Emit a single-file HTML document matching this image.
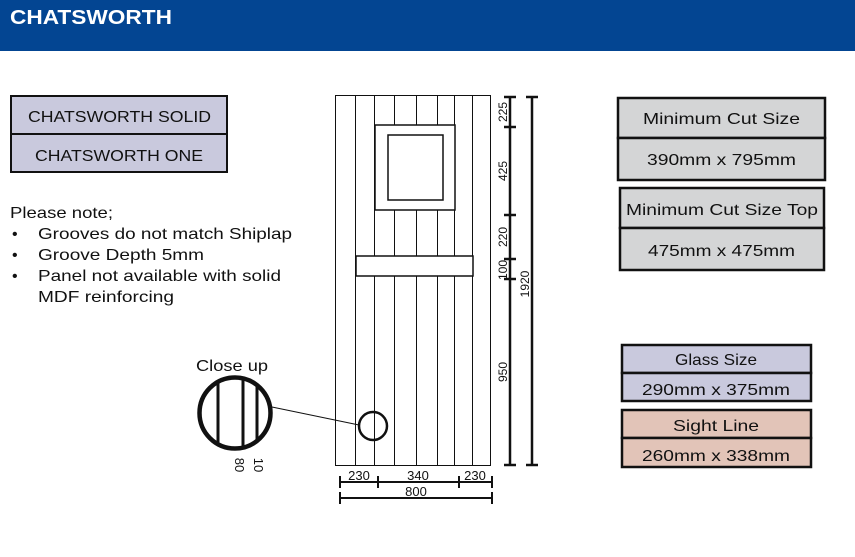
<!DOCTYPE html>
<html><head><meta charset="utf-8"><style>
html,body{margin:0;padding:0;background:#fff}
svg{display:block}
text{font-family:"Liberation Sans",sans-serif;fill:#111}
</style></head><body>
<svg width="855" height="557" viewBox="0 0 855 557" xmlns="http://www.w3.org/2000/svg">
<rect x="0" y="0" width="855" height="51" fill="#034592"/>
<text x="10" y="24" font-size="20" font-weight="bold" style="fill:#fff" textLength="162" lengthAdjust="spacingAndGlyphs">CHATSWORTH</text>

<g stroke="#111" stroke-width="2">
<rect x="11" y="96" width="216" height="38" fill="#c9c9dd"/>
<rect x="11" y="134" width="216" height="38" fill="#c9c9dd"/>
</g>
<g font-size="16" lengthAdjust="spacingAndGlyphs">
<text x="28" y="122" textLength="183" lengthAdjust="spacingAndGlyphs">CHATSWORTH SOLID</text>
<text x="35" y="161" textLength="168" lengthAdjust="spacingAndGlyphs">CHATSWORTH ONE</text>

<text x="10" y="218" textLength="103" lengthAdjust="spacingAndGlyphs">Please note;</text>
<text x="12" y="239">•</text><text x="38" y="239" textLength="254" lengthAdjust="spacingAndGlyphs">Grooves do not match Shiplap</text>
<text x="12" y="260">•</text><text x="38" y="260" textLength="166" lengthAdjust="spacingAndGlyphs">Groove Depth 5mm</text>
<text x="12" y="281">•</text><text x="38" y="281" textLength="243" lengthAdjust="spacingAndGlyphs">Panel not available with solid</text>
<text x="38" y="302" textLength="136" lengthAdjust="spacingAndGlyphs">MDF reinforcing</text>
</g>

<!-- door -->
<g stroke="#111" stroke-width="1" fill="none">
<rect x="335.5" y="95.5" width="155" height="370"/>
<line x1="355.5" y1="95" x2="355.5" y2="466"/>
<line x1="374.5" y1="95" x2="374.5" y2="466"/>
<line x1="394.5" y1="95" x2="394.5" y2="466"/>
<line x1="416.5" y1="95" x2="416.5" y2="466"/>
<line x1="437.5" y1="95" x2="437.5" y2="466"/>
<line x1="454.5" y1="95" x2="454.5" y2="466"/>
<line x1="472.5" y1="95" x2="472.5" y2="466"/>
</g>
<g stroke="#111" stroke-width="1.5">
<rect x="375" y="125" width="80" height="85" fill="#fff"/>
<rect x="388" y="135" width="55" height="65" fill="#fff"/>
<rect x="356" y="256" width="117" height="20" fill="#fff"/>
</g>

<!-- vertical dims -->
<g stroke="#111" stroke-width="2.5">
<line x1="510" y1="97" x2="510" y2="465"/>
<line x1="504" y1="97" x2="516" y2="97"/>
<line x1="504" y1="127" x2="516" y2="127"/>
<line x1="504" y1="215" x2="516" y2="215"/>
<line x1="504" y1="259" x2="516" y2="259"/>
<line x1="504" y1="279" x2="516" y2="279"/>
<line x1="504" y1="465" x2="516" y2="465"/>
<line x1="532" y1="97" x2="532" y2="465"/>
<line x1="526" y1="97" x2="538" y2="97"/>
<line x1="526" y1="465" x2="538" y2="465"/>
</g>
<g font-size="12">
<text transform="translate(507,112) rotate(-90)" text-anchor="middle">225</text>
<text transform="translate(507,171) rotate(-90)" text-anchor="middle">425</text>
<text transform="translate(507,237) rotate(-90)" text-anchor="middle">220</text>
<text transform="translate(507,270) rotate(-90)" text-anchor="middle">100</text>
<text transform="translate(529,284) rotate(-90)" text-anchor="middle">1920</text>
<text transform="translate(507,372) rotate(-90)" text-anchor="middle">950</text>
</g>

<!-- horizontal dims -->
<g stroke="#111" stroke-width="2">
<line x1="340" y1="482" x2="492" y2="482"/>
<line x1="340" y1="476" x2="340" y2="488"/>
<line x1="378" y1="476" x2="378" y2="488"/>
<line x1="459" y1="476" x2="459" y2="488"/>
<line x1="492" y1="476" x2="492" y2="488"/>
<line x1="340" y1="498" x2="492" y2="498"/>
<line x1="340" y1="492" x2="340" y2="504"/>
<line x1="492" y1="492" x2="492" y2="504"/>
</g>
<g font-size="13" text-anchor="middle">
<text x="359" y="480">230</text>
<text x="418" y="480">340</text>
<text x="475" y="480">230</text>
<text x="416" y="496">800</text>
</g>

<!-- close up -->
<text x="196" y="371" font-size="16" textLength="72" lengthAdjust="spacingAndGlyphs">Close up</text>
<line x1="272" y1="407" x2="359" y2="425" stroke="#111" stroke-width="1"/>
<circle cx="373" cy="426" r="14" fill="none" stroke="#111" stroke-width="2.5"/>
<clipPath id="c"><circle cx="235" cy="413" r="35"/></clipPath>
<g clip-path="url(#c)" stroke="#111" stroke-width="3">
<line x1="218" y1="370" x2="218" y2="460"/>
<line x1="243" y1="370" x2="243" y2="460"/>
<line x1="257" y1="370" x2="257" y2="460"/>
</g>
<circle cx="235" cy="413" r="35.5" fill="none" stroke="#111" stroke-width="4.5"/>
<text transform="translate(235,465) rotate(90)" font-size="13" text-anchor="middle">80</text>
<text transform="translate(254,465) rotate(90)" font-size="13" text-anchor="middle">10</text>

<!-- right boxes -->
<g stroke="#111" stroke-width="2.5">
<rect x="618" y="98" width="207" height="40" fill="#d4d5d6"/>
<rect x="618" y="138" width="207" height="42" fill="#d4d5d6"/>
<rect x="620" y="188" width="204" height="40" fill="#d4d5d6"/>
<rect x="620" y="228" width="204" height="42" fill="#d4d5d6"/>
<rect x="622" y="345" width="189" height="28" fill="#c9c9dd"/>
<rect x="622" y="373" width="189" height="28" fill="#c9c9dd"/>
<rect x="622" y="410" width="189" height="28" fill="#e2c4b8"/>
<rect x="622" y="438" width="189" height="29" fill="#e2c4b8"/>
</g>
<g font-size="16">
<text x="643" y="124" textLength="157" lengthAdjust="spacingAndGlyphs">Minimum Cut Size</text>
<text x="647" y="165" textLength="149" lengthAdjust="spacingAndGlyphs">390mm x 795mm</text>
<text x="626" y="215" textLength="192" lengthAdjust="spacingAndGlyphs">Minimum Cut Size Top</text>
<text x="648" y="256" textLength="147" lengthAdjust="spacingAndGlyphs">475mm x 475mm</text>
<text x="675" y="365" textLength="82" lengthAdjust="spacingAndGlyphs">Glass Size</text>
<text x="642" y="395" textLength="148" lengthAdjust="spacingAndGlyphs">290mm x 375mm</text>
<text x="673" y="431" textLength="86" lengthAdjust="spacingAndGlyphs">Sight Line</text>
<text x="642" y="461" textLength="148" lengthAdjust="spacingAndGlyphs">260mm x 338mm</text>
</g>
</svg>
</body></html>
